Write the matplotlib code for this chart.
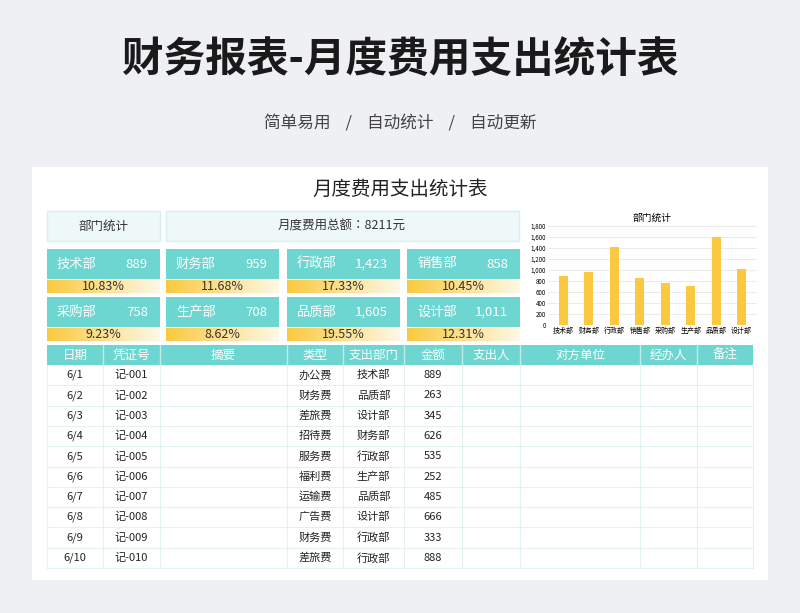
import numpy as np
import matplotlib.pyplot as plt
from matplotlib.patches import Rectangle
from matplotlib.colors import LinearSegmentedColormap

plt.rcParams["font.family"] = ["Noto Sans CJK JP", "Noto Sans CJK SC", "DejaVu Sans"]

depts = ["技术部", "财务部", "行政部", "销售部", "采购部", "生产部", "品质部", "设计部"]
dept_totals = [889, 959, 1423, 858, 758, 708, 1605, 1011]
dept_pcts = ["10.83%", "11.68%", "17.33%", "10.45%", "9.23%", "8.62%", "19.55%", "12.31%"]

headers = ["日期", "凭证号", "摘要", "类型", "支出部门", "金额", "支出人", "对方单位", "经办人", "备注"]
dates = ["6/1", "6/2", "6/3", "6/4", "6/5", "6/6", "6/7", "6/8", "6/9", "6/10"]
vouchers = ["记-001", "记-002", "记-003", "记-004", "记-005", "记-006", "记-007", "记-008", "记-009", "记-010"]
types = ["办公费", "财务费", "差旅费", "招待费", "服务费", "福利费", "运输费", "广告费", "财务费", "差旅费"]
row_depts = ["技术部", "品质部", "设计部", "财务部", "行政部", "生产部", "品质部", "设计部", "行政部", "行政部"]
amounts = [889, 263, 345, 626, 535, 252, 485, 666, 333, 888]

TEAL = "#6dd6d1"
LIGHT = "#eef8f8"
YELLOW = "#fbc93f"

fig = plt.figure(figsize=(8, 6.13), dpi=100)
fig.patch.set_facecolor("#eef0f3")
ax = fig.add_axes([0, 0, 1, 1])
ax.axis("off")

ax.text(400, 60, "财务报表-月度费用支出统计表", ha="center", va="center",
        fontsize=30, fontweight="bold", color="#1a1a1a")
ax.text(400, 124, "简单易用    /    自动统计    /    自动更新", ha="center", va="center",
        fontsize=12, color="#444444")

ax.add_patch(Rectangle((32, 167), 736, 413, facecolor="white", edgecolor="none"))
ax.text(400, 189, "月度费用支出统计表", ha="center", va="center", fontsize=14, color="#222222")

ax.add_patch(Rectangle((47, 211), 113, 30, facecolor=LIGHT, edgecolor="#d9efee"))
ax.text(103, 226, "部门统计", ha="center", va="center", fontsize=9, color="#333333")
ax.add_patch(Rectangle((166, 211), 353, 30, facecolor=LIGHT, edgecolor="#d9efee"))
ax.text(342, 226, "月度费用总额：%d元" % sum(dept_totals), ha="center", va="center",
        fontsize=9, color="#333333")

card_x = [47, 166, 287, 407]
card_w = 113
grad = np.linspace(0, 1, 256).reshape(1, -1)
cmap = LinearSegmentedColormap.from_list("g", [YELLOW, "#fff8e6"])
for i, (d, v, p) in enumerate(zip(depts, dept_totals, dept_pcts)):
    x = card_x[i % 4]
    y = 249 if i < 4 else 297
    ax.add_patch(Rectangle((x, y), card_w, 30, facecolor=TEAL, edgecolor="none"))
    ax.text(x + 10, y + 15, d, ha="left", va="center", fontsize=9.5, color="white")
    ax.text(x + card_w - 12, y + 15, f"{v:,}", ha="right", va="center", fontsize=9.5, color="white")
    ax.imshow(grad, cmap=cmap, extent=[x, x + card_w, y + 44, y + 31], aspect="auto", zorder=2)
    ax.text(x + card_w / 2, y + 38, p, ha="center", va="center", fontsize=9, color="#333333", zorder=3)
ax.set_xlim(0, 800)
ax.set_ylim(613, 0)

# table
col_edges = [47, 103, 160, 287, 343, 404, 462, 520, 640, 697, 753]
ax.add_patch(Rectangle((47, 345), 706, 20, facecolor=TEAL, edgecolor="none"))
for j, h in enumerate(headers):
    cx = (col_edges[j] + col_edges[j + 1]) / 2
    ax.text(cx, 355, h, ha="center", va="center", fontsize=9, color="white")
    if j > 0:
        ax.plot([col_edges[j]] * 2, [345, 365], color="#bfecea", lw=1)
row_h = 20.3
top = 365
for r in range(len(dates)):
    y0 = top + r * row_h
    cy = y0 + row_h / 2
    vals = [dates[r], vouchers[r], "", types[r], row_depts[r], str(amounts[r]), "", "", "", ""]
    for j, v in enumerate(vals):
        cx = (col_edges[j] + col_edges[j + 1]) / 2
        ax.text(cx, cy, v, ha="center", va="center", fontsize=8, color="#222222")
    ax.plot([47, 753], [y0 + row_h] * 2, color="#e2f2f2", lw=0.8)
for e in col_edges:
    ax.plot([e, e], [365, top + 10 * row_h], color="#e2f2f2", lw=0.8)

# bar chart
bx = fig.add_axes([548 / 800, 1 - 325 / 613, 209 / 800, 99 / 613])
bx.bar(range(len(depts)), dept_totals, color=YELLOW, width=0.35, zorder=3)
bx.set_ylim(0, 1800)
bx.set_yticks(range(0, 1801, 200))
bx.set_yticklabels([f"{t:,}" for t in range(0, 1801, 200)], fontsize=4.5)
bx.set_xticks(range(len(depts)))
bx.set_xticklabels(depts, fontsize=5)
bx.set_xlim(-0.6, 7.6)
bx.grid(axis="y", color="#e8e8e8", lw=0.6, zorder=0)
for s in bx.spines.values():
    s.set_visible(False)
bx.tick_params(length=0, pad=1.5)
bx.set_title("部门统计", fontsize=7, pad=4)

fig.savefig("out.png", dpi=100, facecolor=fig.get_facecolor())
